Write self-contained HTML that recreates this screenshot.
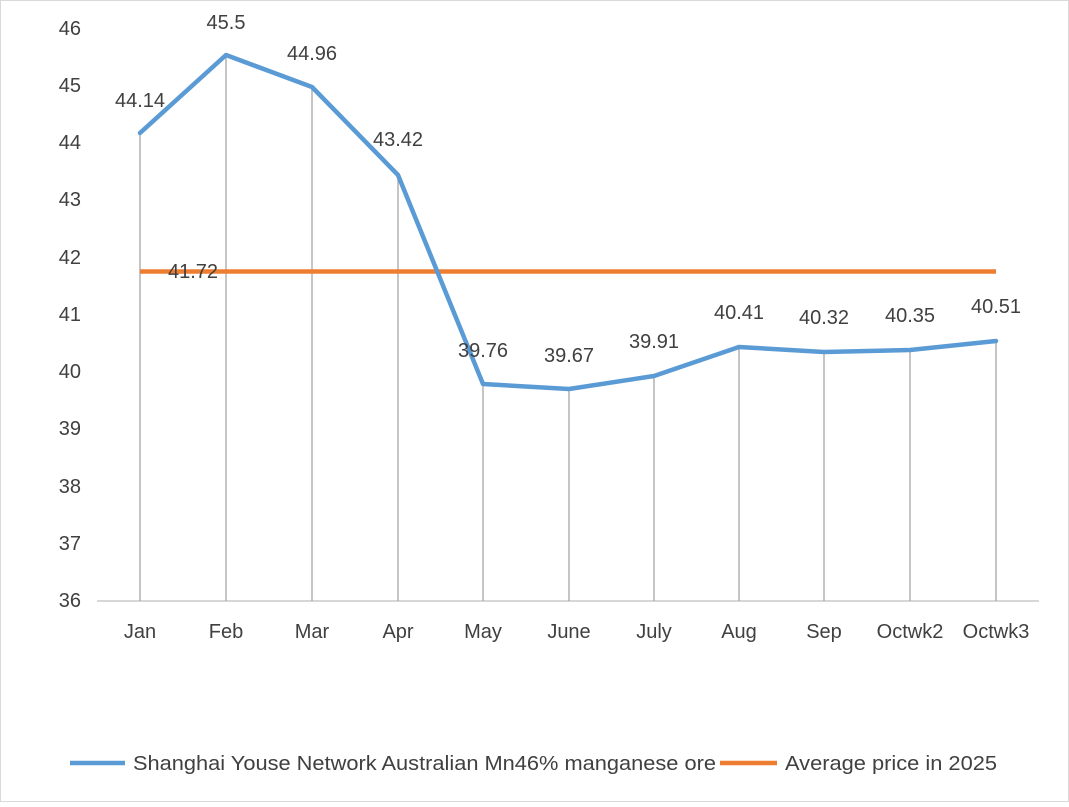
<!DOCTYPE html>
<html><head><meta charset="utf-8"><style>
html,body{margin:0;padding:0;background:#fff}
svg text{font-family:"Liberation Sans",sans-serif;fill:#404040;font-size:20px}
</style></head><body>
<svg width="1069" height="802" xmlns="http://www.w3.org/2000/svg">
<rect x="0.5" y="0.5" width="1068" height="801" fill="#fff" stroke="#d9d9d9"/>
<g text-anchor="end">
<text x="81" y="35">46</text><text x="81" y="92">45</text><text x="81" y="149">44</text>
<text x="81" y="206">43</text><text x="81" y="264">42</text><text x="81" y="321">41</text>
<text x="81" y="378">40</text><text x="81" y="435">39</text><text x="81" y="493">38</text>
<text x="81" y="550">37</text><text x="81" y="607">36</text>
</g>
<line x1="97" y1="601" x2="1039" y2="601" stroke="#bfbfbf" stroke-width="1.3"/>
<g stroke="#a6a6a6" stroke-width="1.3">
<line x1="140" y1="133" x2="140" y2="601"/><line x1="226" y1="55" x2="226" y2="601"/>
<line x1="312" y1="87" x2="312" y2="601"/><line x1="398" y1="175" x2="398" y2="601"/>
<line x1="483" y1="384" x2="483" y2="601"/><line x1="569" y1="389" x2="569" y2="601"/>
<line x1="654" y1="376" x2="654" y2="601"/><line x1="739" y1="347" x2="739" y2="601"/>
<line x1="824" y1="352" x2="824" y2="601"/><line x1="910" y1="350" x2="910" y2="601"/>
<line x1="996" y1="341" x2="996" y2="601"/>
</g>
<line x1="140" y1="271.5" x2="996" y2="271.5" stroke="#ed7d31" stroke-width="4.5"/>
<polyline fill="none" stroke="#5b9bd5" stroke-width="4.5" stroke-linejoin="round" stroke-linecap="round"
points="140,133 226,55 312,87 398,175 483,384 569,389 654,376 739,347 824,352 910,350 996,341"/>
<g text-anchor="middle">
<text x="140" y="107">44.14</text><text x="226" y="29">45.5</text><text x="312" y="60">44.96</text>
<text x="398" y="146">43.42</text><text x="193" y="278">41.72</text>
<text x="483" y="357">39.76</text><text x="569" y="362">39.67</text><text x="654" y="348">39.91</text>
<text x="739" y="319">40.41</text><text x="824" y="324">40.32</text><text x="910" y="322">40.35</text>
<text x="996" y="313">40.51</text>
<text x="140" y="638">Jan</text><text x="226" y="638">Feb</text><text x="312" y="638">Mar</text>
<text x="398" y="638">Apr</text><text x="483" y="638">May</text><text x="569" y="638">June</text>
<text x="654" y="638">July</text><text x="739" y="638">Aug</text><text x="824" y="638">Sep</text>
<text x="910" y="638">Octwk2</text><text x="996" y="638">Octwk3</text>
</g>
<line x1="70" y1="763" x2="125" y2="763" stroke="#5b9bd5" stroke-width="4.5"/>
<text x="133" y="770" textLength="583" lengthAdjust="spacingAndGlyphs">Shanghai Youse Network Australian Mn46% manganese ore</text>
<line x1="720" y1="763" x2="777" y2="763" stroke="#ed7d31" stroke-width="4.5"/>
<text x="785" y="770" textLength="212" lengthAdjust="spacingAndGlyphs">Average price in 2025</text>
</svg>
</body></html>
